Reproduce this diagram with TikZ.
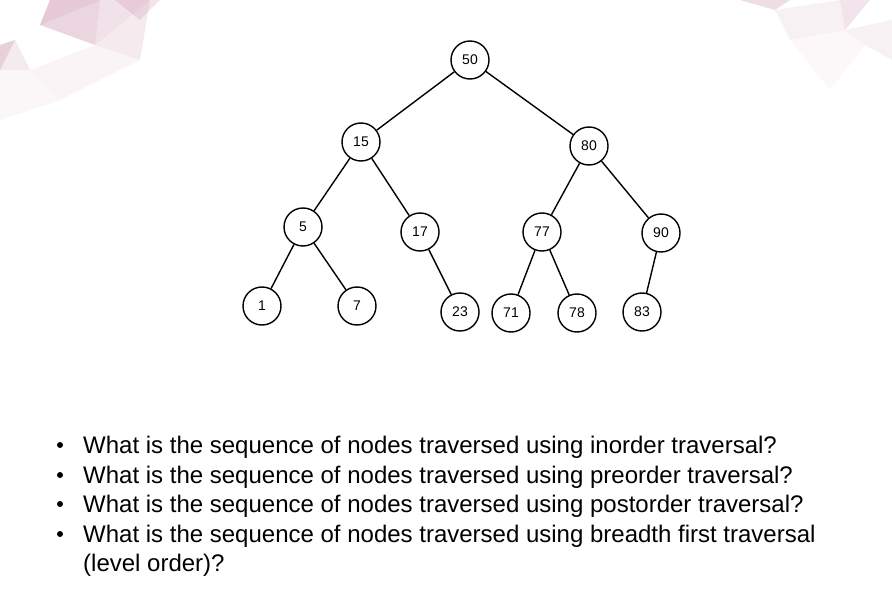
\documentclass[tikz,border=0pt]{standalone}
\usepackage{fontspec}
\setmainfont{Liberation Sans}
\begin{document}
\begin{tikzpicture}[x=1pt,y=-1pt,
  tn/.style={circle,draw,line width=1.4pt,minimum size=38pt,inner sep=0pt,font=\fontsize{14}{14}\selectfont},
  ed/.style={line width=1.4pt},
  q/.style={anchor=base west,font=\fontsize{24}{24}\selectfont,inner sep=0pt}]
\useasboundingbox (0,0) rectangle (892,599);
% decorations
\definecolor{pk}{RGB}{190,120,150}
\fill[pk,opacity=0.4] (50,0) -- (100,0) -- (40,25) -- cycle;
\fill[pk,opacity=0.3] (40,25) -- (100,0) -- (95,45) -- cycle;
\fill[pk,opacity=0.22] (100,0) -- (150,0) -- (95,45) -- cycle;
\fill[pk,opacity=0.15] (95,45) -- (150,0) -- (140,60) -- cycle;
\fill[pk,opacity=0.35] (0,45) -- (15,40) -- (0,70) -- cycle;
\fill[pk,opacity=0.15] (0,70) -- (15,40) -- (30,70) -- cycle;
\fill[pk,opacity=0.08] (30,70) -- (95,45) -- (140,60) -- (60,100) -- cycle;
\fill[pk,opacity=0.06] (0,70) -- (30,70) -- (60,100) -- (0,120) -- cycle;
\fill[pk,opacity=0.2] (115,0) -- (160,0) -- (140,20) -- cycle;
\fill[pk,opacity=0.25] (740,0) -- (790,0) -- (775,10) -- cycle;
\fill[pk,opacity=0.2] (840,0) -- (870,0) -- (845,30) -- cycle;
\fill[pk,opacity=0.1] (775,10) -- (840,0) -- (845,30) -- (790,40) -- cycle;
\fill[pk,opacity=0.1] (845,30) -- (892,20) -- (892,60) -- (865,45) -- cycle;
\fill[pk,opacity=0.05] (790,40) -- (845,30) -- (865,45) -- (830,90) -- cycle;
% nodes
\node[tn] (n50) at (470,60) {50};
\node[tn] (n15) at (361,142) {15};
\node[tn] (n80) at (589,146) {80};
\node[tn] (n5) at (303,227) {5};
\node[tn] (n17) at (420,232) {17};
\node[tn] (n77) at (542,232) {77};
\node[tn] (n90) at (661,233) {90};
\node[tn] (n1) at (262,306) {1};
\node[tn] (n7) at (357,306) {7};
\node[tn] (n23) at (460,312) {23};
\node[tn] (n71) at (511,313) {71};
\node[tn] (n78) at (577,313) {78};
\node[tn] (n83) at (642,312) {83};
\draw[ed] (n50)--(n15); \draw[ed] (n50)--(n80);
\draw[ed] (n15)--(n5); \draw[ed] (n15)--(n17);
\draw[ed] (n5)--(n1); \draw[ed] (n5)--(n7);
\draw[ed] (n17)--(n23);
\draw[ed] (n80)--(n77); \draw[ed] (n80)--(n90);
\draw[ed] (n77)--(n71); \draw[ed] (n77)--(n78);
\draw[ed] (n90)--(n83);
% text
\foreach \y in {453,483,512,542} \fill (60,\y-8) circle (3);
\node[q] (t1) at (83,453) {What is the sequence of nodes traversed using inorder traversal?};
\node[q] (t2) at (83,483) {What is the sequence of nodes traversed using preorder traversal?};
\node[q] (t3) at (83,512) {What is the sequence of nodes traversed using postorder traversal?};
\node[q] (t4) at (83,542) {What is the sequence of nodes traversed using breadth first traversal};
\node[q] (t5) at (83,571) {(level order)?};
\end{tikzpicture}
\end{document}
